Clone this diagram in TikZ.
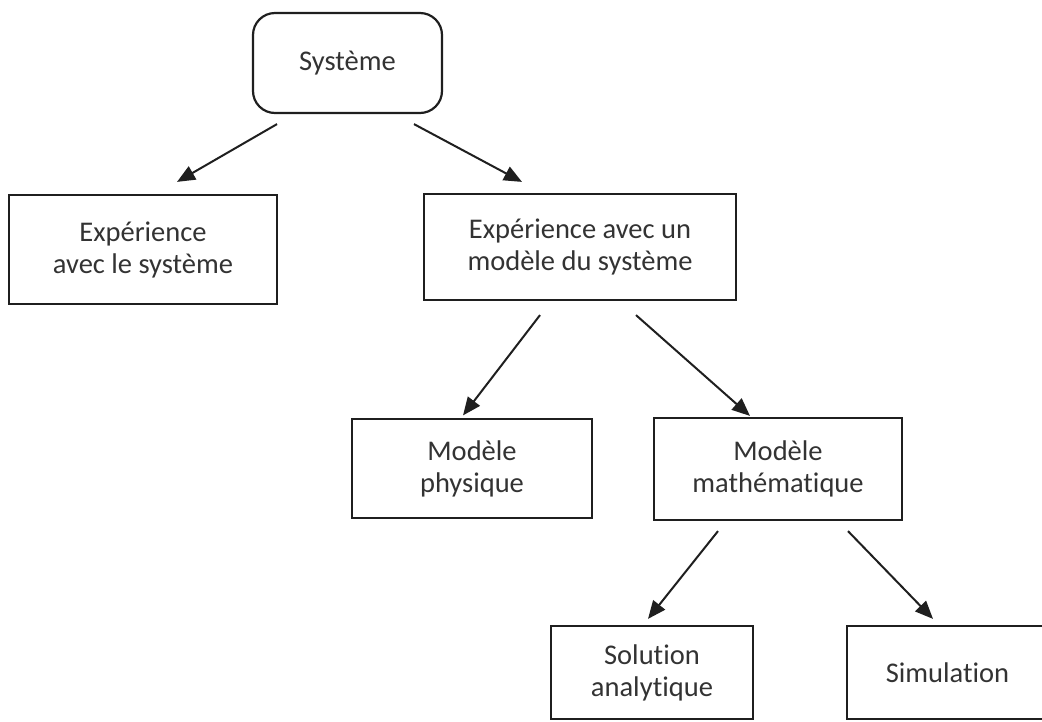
\documentclass[tikz,border=0pt]{standalone}
\usepackage{fontspec}
\setmainfont[Ligatures={NoCommon,NoContextual},RawFeature={-liga;-clig;-dlig}]{Carlito}
\usetikzlibrary{arrows.meta}
\definecolor{ink}{gray}{0.12}
\definecolor{txt}{gray}{0.2}
\tikzset{
  box/.style={draw=ink, line width=2.2pt, fill=white, align=center,
    text=txt, inner sep=0pt,
    font=\fontsize{28.5pt}{32pt}\selectfont},
  rbox/.style={box, rounded corners=22pt},
  arr/.style={draw=ink, line width=2pt, -{Triangle[length=18pt,width=15pt]}}
}
\begin{document}
\begin{tikzpicture}[x=1pt,y=-1pt]
\useasboundingbox (0,0) rectangle (1042,721);

% boxes
\node[rbox, minimum width=189pt, minimum height=100pt] (sys) at (347.5,63) {Système};
\node[box, minimum width=268pt, minimum height=109pt] (exp1) at (143,249.5) {Expérience\\avec le système};
\node[box, minimum width=312pt, minimum height=106pt] (exp2) at (580,247) {Expérience avec un\\modèle du système};
\node[box, minimum width=240pt, minimum height=99pt] (phys) at (472,468.5) {Modèle\\physique};
\node[box, minimum width=248pt, minimum height=102pt] (math) at (778,469) {Modèle\\mathématique};
\node[box, minimum width=202pt, minimum height=93pt] (sol) at (652,672.5) {Solution\\analytique};
\node[box, minimum width=201pt, minimum height=93pt] (sim) at (947.5,672.5) {Simulation};

% connectors
\draw[arr] ([shift={(-70.5,10)}]sys.south) -- ([shift={(34,-12)}]exp1.north);
\draw[arr] ([shift={(66.5,10)}]sys.south) -- ([shift={(-58,-11)}]exp2.north);
\draw[arr] ([shift={(-40,14)}]exp2.south) -- ([shift={(-9,-2.5)}]phys.north);
\draw[arr] ([shift={(56,14)}]exp2.south) -- ([shift={(-28,-1)}]math.north);
\draw[arr] ([shift={(-60,10)}]math.south) -- ([shift={(-4,-6)}]sol.north);
\draw[arr] ([shift={(70,10)}]math.south) -- ([shift={(-14.5,-6)}]sim.north);
\end{tikzpicture}
\end{document}
